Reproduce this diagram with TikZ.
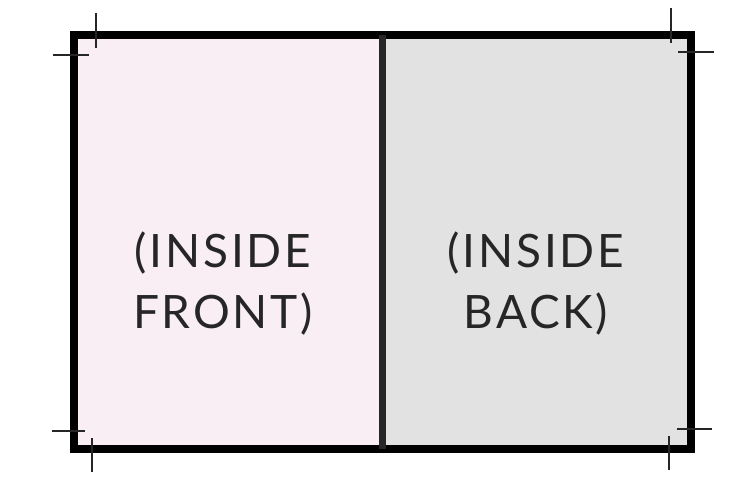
\documentclass[tikz,border=0pt]{standalone}
\usepackage{fontspec}
\setmainfont[LetterSpace=6]{Lato}
\usepackage{xcolor}
\definecolor{frontpink}{RGB}{250,238,245}
\definecolor{backgray}{RGB}{226,226,226}
\definecolor{inkdark}{RGB}{38,38,38}
\begin{document}
\begin{tikzpicture}[x=1pt,y=-1pt,
  panel/.style={font=\fontsize{46}{61}\selectfont,text=inkdark,align=center},
  crop/.style={draw=inkdark,line width=1.6pt}
]
  \useasboundingbox (0,0) rectangle (729,486);
  \fill[frontpink] (74,35) rectangle (382,449);
  \fill[backgray] (382,35) rectangle (691,449);
  \draw[line width=8pt] (74,35) rectangle (691,449);
  \draw[inkdark,line width=7pt] (382,35) -- (382,449);
  \node[panel] (front) at (223,284) {(INSIDE\\FRONT)};
  \node[panel] (back) at (536,284) {(INSIDE\\BACK)};
  \draw[crop] (96,13) -- (96,48) (53,55) -- (89,55);
  \draw[crop] (671,8) -- (671,43) (678,52) -- (714,52);
  \draw[crop] (52,431) -- (85,431) (92,438) -- (92,472);
  \draw[crop] (677,429) -- (712,429) (669,436) -- (669,470);
\end{tikzpicture}
\end{document}
